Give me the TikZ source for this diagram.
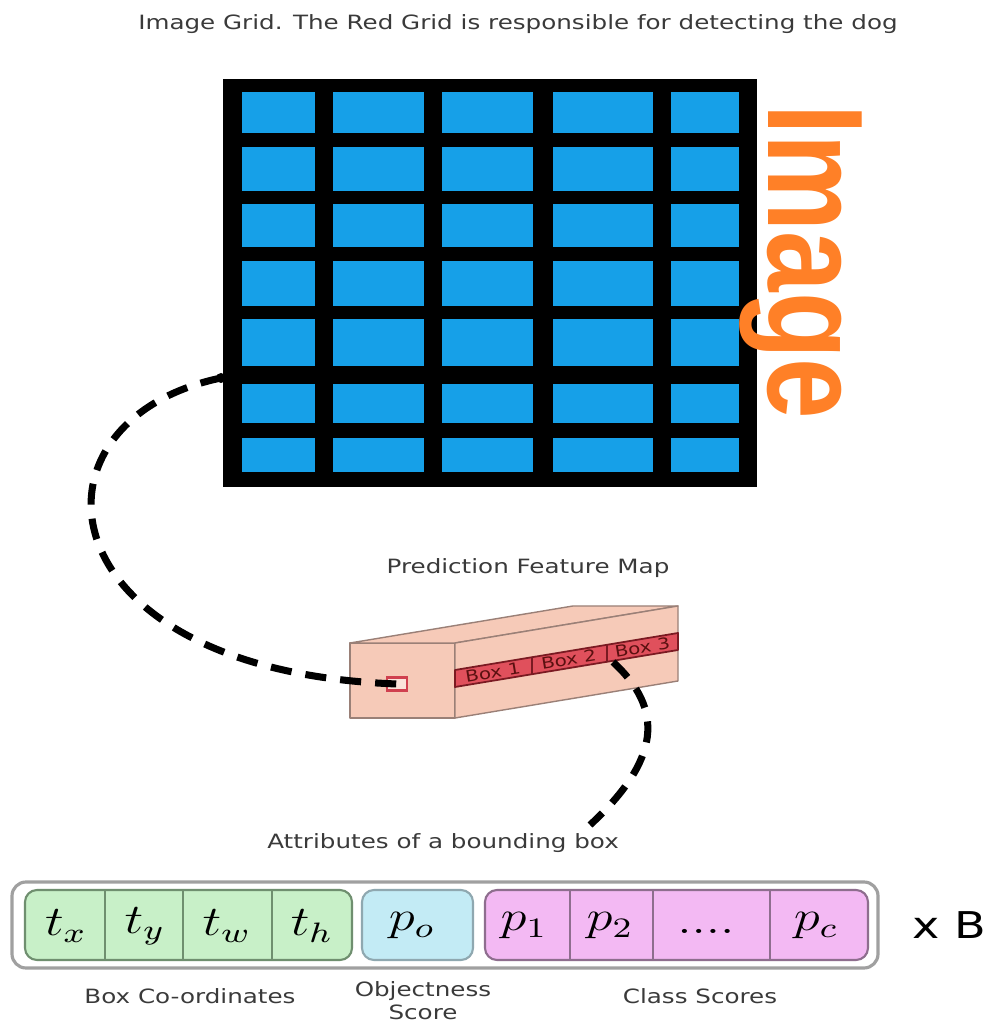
\documentclass[tikz,border=0pt]{standalone}
\usepackage{fontspec}
\usepackage{graphicx}
\setsansfont{DejaVu Sans}
\newfontfamily\bannerfont{Liberation Sans}
\usetikzlibrary{calc}
\definecolor{cellBlue}{HTML}{16A0E8}
\definecolor{bannerOrange}{HTML}{FF8027}
\definecolor{mapFace}{HTML}{F6CAB8}
\definecolor{mapEdge}{HTML}{9A8077}
\definecolor{stripRed}{HTML}{E0505C}
\definecolor{stripEdge}{HTML}{7A1A22}
\definecolor{stripText}{HTML}{5A1010}
\definecolor{cellRed}{HTML}{D0404F}
\definecolor{coordGreen}{HTML}{C8F0C8}
\definecolor{coordEdge}{HTML}{6F8F6F}
\definecolor{objBlue}{HTML}{C3EBF5}
\definecolor{objEdge}{HTML}{8FA8B0}
\definecolor{classPink}{HTML}{F3B9F3}
\definecolor{classEdge}{HTML}{8E6E8E}
\definecolor{barEdge}{HTML}{A0A0A0}
\definecolor{labelGray}{HTML}{3A3A3A}
\tikzset{
  caption/.style={font=\sffamily\fontsize{5.6}{6.5}\selectfont, text=labelGray, inner sep=0pt},
  map face/.style={fill=mapFace, draw=mapEdge, line width=0.4pt, line join=round},
  box strip/.style={fill=stripRed, draw=stripEdge, line width=0.5pt, line join=round},
  box label/.style={font=\sffamily\fontsize{4.5}{5}\selectfont, text=stripText, inner sep=0pt},
  cell mark/.style={draw=cellRed, fill=mapFace!50!white, line width=0.7pt,
    minimum width=2mm, minimum height=1.3mm, inner sep=0pt},
  link/.style={line width=2pt, dash pattern=on 6pt off 4pt},
  bar frame/.style={draw=barEdge, line width=0.9pt, fill=white, rounded corners=1.4mm},
  attr/.style={font=\fontsize{12}{14}\selectfont, inner sep=0pt}
}
\newcommand{\wide}[1]{\scalebox{1.25}[1]{#1}}

\begin{document}
\begin{tikzpicture}[x=0.1mm, y=0.1mm]
\useasboundingbox (0,0) rectangle (1000,1021);

\node[caption] (title) at (518,997)
  {\wide{Image Grid. The Red Grid is responsible for detecting the dog}};

% Image grid: black board with 7 x 5 blue cells
\fill (223,534) rectangle (757,942);
\foreach \ya/\yb in {888/929,830/874,774/817,715/760,655/702,598/637,549/583}
  \foreach \xa/\xb in {242/315,333/424,442/533,553/653,671/739}
    \fill[cellBlue] (\xa,\ya) rectangle (\xb,\yb);
\node[rotate=-90, anchor=base west, inner sep=0pt, text=bannerOrange,
  font=\bannerfont\bfseries\fontsize{31}{31}\selectfont] (banner) at (768,917)
  {\scalebox{1}[1.25]{Image}};
\coordinate (gridspot) at (221,643);
\fill (gridspot) circle (5);

% Prediction feature map as a box
\node[caption] (maplabel) at (528,453) {\wide{Prediction Feature Map}};
\coordinate (fA) at (350,378);
\coordinate (fB) at (455,378);
\coordinate (fC) at (455,303);
\coordinate (fD) at (350,303);
\coordinate (bA) at (573,415);
\coordinate (bB) at (678,415);
\coordinate (bC) at (678,340);
\draw[map face] (fA) -- (fB) -- (fC) -- (fD) -- cycle;
\draw[map face] (fA) -- (bA) -- (bB) -- (fB) -- cycle;
\draw[map face] (fB) -- (bB) -- (bC) -- (fC) -- cycle;

% strip of B boxes along the depth
\coordinate (sA) at (455,351);
\coordinate (sB) at (678,388);
\coordinate (sC) at (678,371);
\coordinate (sD) at (455,334);
\draw[box strip] (sA) -- (sB) -- (sC) -- (sD) -- cycle;
\foreach \t in {0.345,0.682}
  \draw[stripEdge, line width=0.4pt] ($(sD)!\t!(sC)$) -- ($(sA)!\t!(sB)$);
\path ($(sA)!.5!(sD)$) -- ($(sB)!.5!(sC)$)
  node[box label, pos=0.17, sloped] (box1) {\wide{Box 1}}
  node[box label, pos=0.51, sloped] (box2) {\wide{Box 2}}
  node[box label, pos=0.84, sloped] (box3) {\wide{Box 3}};

\node[cell mark] (cell) at (397,337) {};
\draw[link] (gridspot) .. controls (15,600) and (40,350) .. (cell.center);

\node[caption] (attrlabel) at (443,178) {\wide{Attributes of a bounding box}};
\coordinate (stripfoot) at (613,359);
\coordinate (attrtop) at (590,196);
\draw[link] (stripfoot) .. controls (665,311) and (660,261) .. (attrtop);

% Attribute vector of one bounding box
\draw[bar frame] (12,53) rectangle (878,139);
\draw[fill=coordGreen, draw=coordEdge, line width=0.6pt, rounded corners=1.2mm]
  (25,61) rectangle (352,131);
\foreach \x in {105,183,272}
  \draw[coordEdge, line width=0.5pt] (\x,61) -- (\x,131);
\draw[fill=objBlue, draw=objEdge, line width=0.6pt, rounded corners=1.2mm]
  (362,61) rectangle (473,131);
\draw[fill=classPink, draw=classEdge, line width=0.6pt, rounded corners=1.2mm]
  (485,61) rectangle (868,131);
\foreach \x in {570,653,770}
  \draw[classEdge, line width=0.5pt] (\x,61) -- (\x,131);

\node[attr] (tx) at (66,95) {\wide{$t_x$}};
\node[attr] (ty) at (145,95) {\wide{$t_y$}};
\node[attr] (tw) at (227,95) {\wide{$t_w$}};
\node[attr] (th) at (312,95) {\wide{$t_h$}};
\node[attr] (po) at (412,95) {\wide{$p_o$}};
\node[attr] (p1) at (524,95) {\wide{$p_1$}};
\node[attr] (p2) at (610,95) {\wide{$p_2$}};
\node[attr, anchor=base] (pdots) at (706,87) {\wide{$\mathbf{....}$}};
\node[attr] (pc) at (816,95) {\wide{$p_c$}};
\node[font=\sffamily\fontsize{10.5}{12}\selectfont, inner sep=0pt] (times) at (949,96)
  {\wide{x B}};

\node[caption] (coordlabel) at (190,25) {\wide{Box Co-ordinates}};
\node[caption, align=center] (objlabel) at (423,20) {\wide{Objectness}\\\wide{Score}};
\node[caption] (classlabel) at (700,25) {\wide{Class Scores}};

\end{tikzpicture}
\end{document}
